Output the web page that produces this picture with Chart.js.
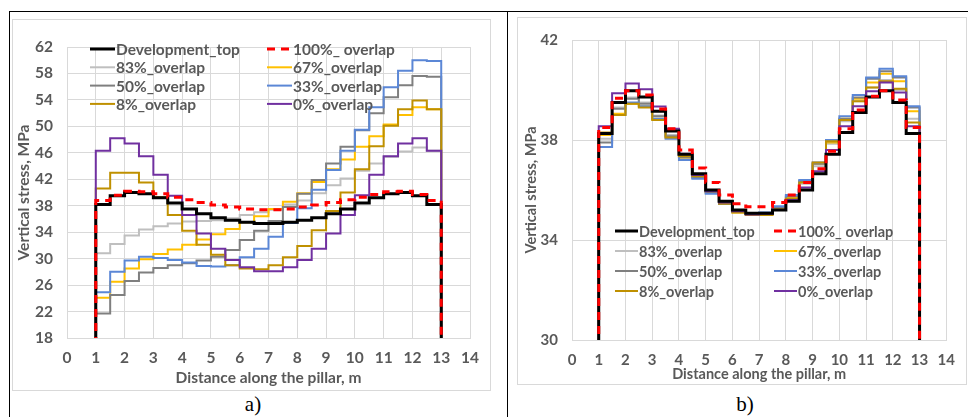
<!DOCTYPE html>
<html><head><meta charset="utf-8">
<script src="https://cdn.jsdelivr.net/npm/chart.js@4.4.1/dist/chart.umd.min.js"></script>
<style>
html,body{margin:0;padding:0;background:#fff;}
#page{position:relative;width:968px;height:417px;overflow:hidden;background:#fff;}
.rule{position:absolute;background:#000;}
.panel{position:absolute;border:1px solid #d9d9d9;box-sizing:border-box;}
canvas{position:absolute;}
.cap{position:absolute;font-family:"Liberation Serif","Times New Roman",serif;font-size:21px;color:#000;transform:translateX(-50%);line-height:21px;}
</style></head><body>
<div id="page">
  <div class="rule" style="left:9px;top:11px;width:959px;height:1px"></div>
  <div class="rule" style="left:9px;top:11px;width:1px;height:406px"></div>
  <div class="rule" style="left:507px;top:11px;width:1px;height:406px"></div>
  <div class="panel" style="left:12px;top:19px;width:479px;height:372px"></div>
  <div class="panel" style="left:517px;top:17px;width:450px;height:368px"></div>
  <canvas id="chartA" width="478" height="371" style="left:12px;top:19px"></canvas>
  <canvas id="chartB" width="449" height="367" style="left:517px;top:17px"></canvas>
  <div class="cap" style="left:253px;top:394px">a)</div>
  <div class="cap" style="left:745px;top:394px">b)</div>
</div>
<script>
// ---- data ----
const seriesLabels = ["Development_top", "100%_ overlap", "83%_overlap", "67%_overlap",
                      "50%_overlap", "33%_overlap", "8%_overlap", "0%_overlap"];
// segment starts along the pillar (m); each value holds over a 0.5 m step, pillar 1..13 m
const distance = [1, 1.5, 2, 2.5, 3, 3.5, 4, 4.5, 5, 5.5, 6, 6.5, 7, 7.5, 8, 8.5, 9, 9.5, 10, 10.5, 11, 11.5, 12, 12.5, 13];
const edgeStress = 0; // stress outside the pillar edges

// chart a) values (MPa), one per 0.5 m step
const aDevTop  = [38.2, 39.5, 40.0, 39.8, 39.2, 38.4, 37.5, 36.8, 36.2, 35.8, 35.5, 35.3, 35.3, 35.5, 35.8, 36.2, 36.8, 37.5, 38.4, 39.2, 39.8, 40.0, 39.5, 38.2];
const aOv100   = [38.8, 39.6, 40.2, 40.1, 39.8, 39.3, 38.9, 38.5, 38.1, 37.8, 37.5, 37.4, 37.4, 37.5, 37.8, 38.1, 38.5, 38.9, 39.3, 39.7, 40.1, 40.2, 39.7, 38.8];
const aOv83    = [30.8, 32.2, 33.5, 34.4, 34.9, 35.3, 35.6, 35.7, 35.8, 36.1, 36.6, 37.0, 37.4, 38.2, 38.8, 39.9, 41.1, 42.1, 43.3, 44.4, 45.4, 46.2, 46.8, 46.3];
const aOv67    = [24.1, 26.5, 28.5, 29.9, 30.7, 31.4, 32.1, 32.9, 33.7, 34.5, 35.5, 36.4, 37.5, 38.6, 39.9, 41.6, 43.5, 45.0, 46.9, 48.5, 50.3, 51.7, 52.9, 52.6];
const aOv50    = [21.7, 24.5, 26.6, 27.9, 28.6, 29.0, 29.3, 29.7, 30.3, 31.3, 32.8, 34.2, 35.7, 37.8, 39.8, 41.9, 44.4, 46.9, 49.4, 52.0, 54.4, 56.2, 57.6, 57.5];
const aOv33    = [24.9, 28.0, 29.7, 30.3, 30.1, 29.8, 29.4, 28.9, 28.8, 29.0, 30.2, 31.5, 33.3, 35.4, 37.6, 40.4, 43.4, 46.3, 49.5, 52.9, 55.9, 58.4, 60.0, 59.9];
const aOv8     = [40.6, 43.0, 43.0, 41.5, 39.3, 36.6, 34.2, 32.1, 30.6, 29.0, 28.5, 28.4, 29.0, 30.2, 31.9, 34.3, 37.2, 40.0, 43.5, 47.0, 50.1, 52.6, 53.9, 52.6];
const aOv0     = [46.3, 48.2, 47.4, 45.5, 42.7, 39.5, 36.6, 33.8, 31.5, 29.8, 28.7, 28.1, 28.1, 28.7, 29.8, 31.5, 33.8, 36.6, 39.6, 42.7, 45.5, 47.4, 48.2, 46.3];

// chart b) values (MPa)
const bDevTop  = [38.26, 39.5, 39.97, 39.72, 39.15, 38.36, 37.43, 36.65, 36.0, 35.55, 35.2, 35.07, 35.07, 35.2, 35.55, 36.0, 36.65, 37.43, 38.3, 39.1, 39.72, 39.97, 39.5, 38.26];
const bOv100   = [38.5, 39.67, 39.97, 39.8, 39.24, 38.45, 37.6, 36.88, 36.3, 35.8, 35.45, 35.33, 35.33, 35.5, 35.8, 36.3, 36.85, 37.55, 38.45, 39.2, 39.75, 39.97, 39.6, 38.5];
const bOv83    = [38.05, 39.3, 39.7, 39.5, 38.98, 38.2, 37.35, 36.55, 35.95, 35.5, 35.15, 35.05, 35.1, 35.3, 35.7, 36.25, 36.95, 37.85, 38.75, 39.55, 40.1, 40.4, 40.0, 38.85];
const bOv67    = [38.2, 39.05, 39.45, 39.35, 38.85, 38.1, 37.3, 36.5, 35.9, 35.45, 35.1, 35.0, 35.02, 35.25, 35.7, 36.35, 37.05, 37.9, 38.85, 39.65, 40.3, 40.65, 40.35, 39.15];
const bOv50    = [37.9, 39.25, 39.65, 39.45, 38.95, 38.15, 37.3, 36.5, 35.9, 35.45, 35.12, 35.03, 35.08, 35.3, 35.75, 36.35, 37.05, 37.95, 38.85, 39.7, 40.45, 40.75, 40.5, 39.3];
const bOv33    = [37.72, 39.0, 39.5, 39.35, 38.85, 38.05, 37.2, 36.45, 35.85, 35.45, 35.12, 35.05, 35.1, 35.35, 35.8, 36.4, 37.1, 38.0, 38.95, 39.8, 40.5, 40.85, 40.55, 39.35];
const bOv8     = [38.3, 39.0, 39.45, 39.3, 38.8, 38.1, 37.35, 36.55, 35.95, 35.45, 35.1, 35.0, 35.0, 35.2, 35.65, 36.3, 37.1, 37.95, 38.8, 39.55, 40.1, 40.35, 40.05, 38.7];
const bOv0     = [38.55, 39.87, 40.26, 40.03, 39.34, 38.45, 37.45, 36.6, 35.95, 35.5, 35.15, 35.02, 35.05, 35.2, 35.6, 36.1, 36.75, 37.6, 38.55, 39.35, 39.95, 40.3, 39.9, 38.55];

const aYTicks = {min: 18, max: 62, step: 4};
const bYTicks = {min: 30, max: 42, step: 4};
const xTicks = {min: 0, max: 14, step: 1};

// ---- styling ----
const styles = [
  {color: "#000000", width: 3, order: 1},
  {color: "#ff0000", width: 3, dash: [8, 6], order: 0},
  {color: "#bfbfbf", width: 2, order: 7},
  {color: "#ffc000", width: 2, order: 6},
  {color: "#7f7f7f", width: 2, order: 5},
  {color: "#5b87d6", width: 2, order: 4},
  {color: "#bf9000", width: 2, order: 3},
  {color: "#7030a0", width: 2, order: 2}
];
const TXT = "#595959";
const FONT = "Lato";

function toPoints(vals) {
  // value v[i] holds from distance[i] to distance[i+1]; drop to edgeStress at both ends
  const pts = [{x: distance[0], y: edgeStress}];
  vals.forEach((v, i) => pts.push({x: distance[i + 1], y: v}));
  pts.push({x: distance[distance.length - 1], y: edgeStress});
  return pts;
}

function buildDatasets(seriesList) {
  return seriesList.map((vals, i) => ({
    label: seriesLabels[i],
    data: toPoints(vals),
    borderColor: styles[i].color,
    backgroundColor: styles[i].color,
    borderWidth: styles[i].width,
    borderDash: styles[i].dash || [],
    order: styles[i].order,
    stepped: "after",
    pointRadius: 0,
    fill: false,
    clip: {left: 4, right: 4, top: 4, bottom: 0}
  }));
}

const gridLegend = {
  id: "gridLegend",
  afterDraw(chart, args, o) {
    const ctx = chart.ctx;
    chart.data.datasets.forEach((ds, i) => {
      const col = i % 2, row = Math.floor(i / 2);
      const x = o.cols[col], y = o.y0 + row * o.rowGap;
      ctx.save();
      ctx.strokeStyle = ds.borderColor;
      ctx.lineWidth = ds.borderWidth;
      ctx.setLineDash(ds.borderDash || []);
      ctx.beginPath(); ctx.moveTo(x, y); ctx.lineTo(x + o.sample, y); ctx.stroke();
      ctx.setLineDash([]);
      ctx.fillStyle = TXT;
      ctx.font = "bold " + o.size + "px " + FONT;
      ctx.textBaseline = "middle";
      ctx.fillText(ds.label, x + o.sample + 1, y + 1);
      ctx.restore();
    });
  }
};

function makeChart(id, seriesList, yT, L) {
  return new Chart(document.getElementById(id), {
    type: "line",
    data: {datasets: buildDatasets(seriesList)},
    plugins: [gridLegend],
    options: {
      responsive: false,
      animation: false,
      events: [],
      layout: {padding: {left: 0, right: L.padRight, top: L.padTop, bottom: 0}},
      plugins: {
        legend: {display: false},
        tooltip: {enabled: false},
        gridLegend: L.legend
      },
      scales: {
        x: {
          type: "linear", min: xTicks.min, max: xTicks.max,
          ticks: {stepSize: xTicks.step, color: TXT, font: {family: FONT, size: L.tickSize, weight: "bold"}, padding: L.xTickPad, maxRotation: 0},
          grid: {color: "#d9d9d9", drawTicks: false},
          border: {color: "#d9d9d9"},
          title: {display: true, text: "Distance along the pillar, m", color: TXT,
                  font: {family: FONT, size: L.titleSize, weight: "bold"}, padding: {top: 0, bottom: L.xTitlePadBottom}},
          afterFit: s => { s.height = L.xAxisH; }
        },
        y: {
          min: yT.min, max: yT.max,
          ticks: {stepSize: yT.step, color: TXT, font: {family: FONT, size: L.tickSize, weight: "bold"}, padding: L.yTickPad},
          grid: {color: "#d9d9d9", drawTicks: false},
          border: {color: "#d9d9d9"},
          title: {display: true, text: "Vertical stress, MPa", color: TXT,
                  font: {family: FONT, size: L.titleSize, weight: "bold"}, padding: {top: L.yTitlePad, bottom: 0}},
          afterFit: s => { s.width = L.yAxisW; }
        }
      }
    }
  });
}

makeChart("chartA", [aDevTop, aOv100, aOv83, aOv67, aOv50, aOv33, aOv8, aOv0], aYTicks, {
  padRight: 18, padTop: 28, xAxisH: 52, yAxisW: 55, tickSize: 15.5, titleSize: 15.5,
  xTickPad: 11, yTickPad: 14, xTitlePadBottom: 3, yTitlePad: 3,
  legend: {cols: [78, 255], y0: 30, rowGap: 18.3, sample: 25, size: 15.5}
});
makeChart("chartB", [bDevTop, bOv100, bOv83, bOv67, bOv50, bOv33, bOv8, bOv0], bYTicks, {
  padRight: 14, padTop: 19, xAxisH: 44, yAxisW: 55, tickSize: 15, titleSize: 14.5,
  xTickPad: 11, yTickPad: 14, xTitlePadBottom: 1, yTitlePad: 6,
  legend: {cols: [98, 257], y0: 214, rowGap: 20, sample: 23, size: 14.5}
});
</script>
</body></html>
